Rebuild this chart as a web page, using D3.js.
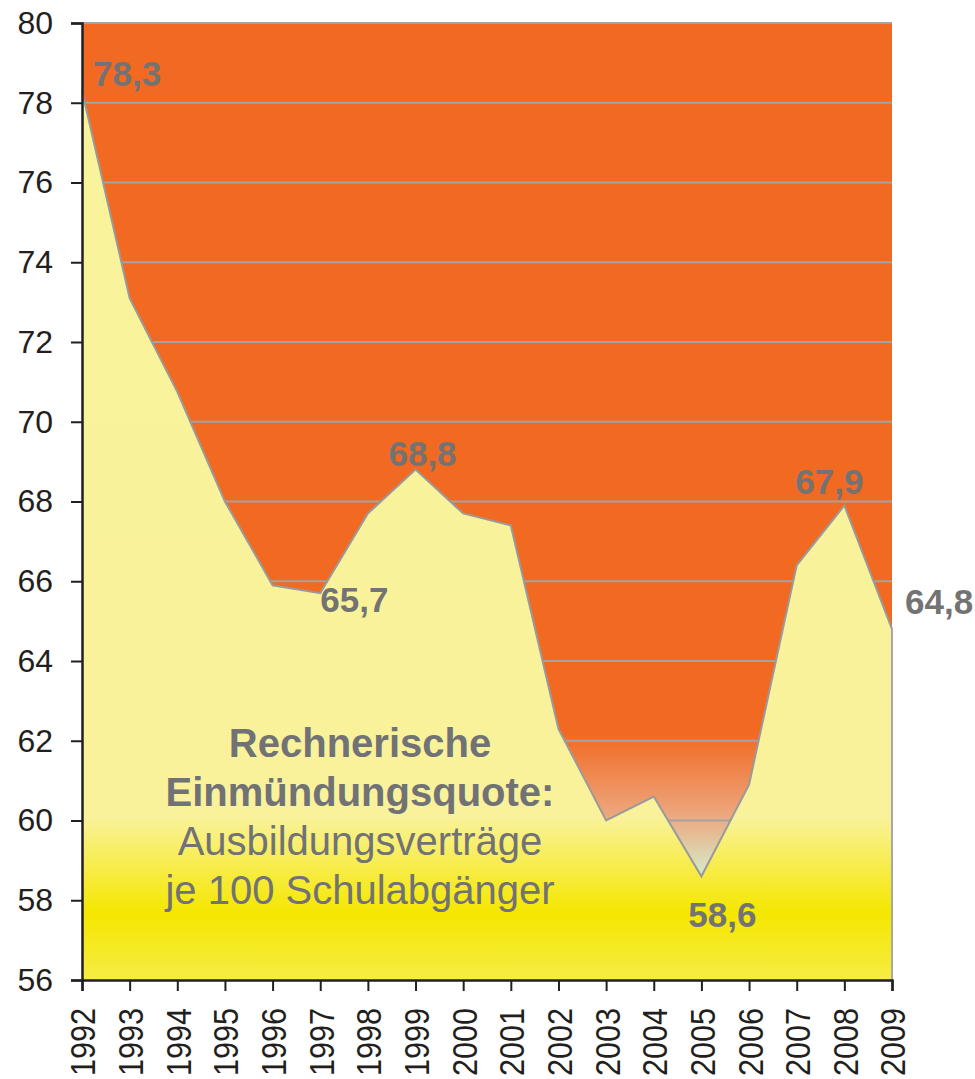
<!DOCTYPE html>
<html>
<head>
<meta charset="utf-8">
<script src="https://cdn.jsdelivr.net/npm/d3@7"></script>
<style>
body { margin: 0; background: #fff; }
svg { font-family: "Liberation Sans", Arial, sans-serif; }
</style>
</head>
<body>
<svg width="975" height="1079"></svg>
<script>
// data
const years = [1992, 1993, 1994, 1995, 1996, 1997, 1998, 1999, 2000, 2001, 2002, 2003, 2004, 2005, 2006, 2007, 2008, 2009];
const quote = [78.3, 73.1, 70.75, 68.0, 65.9, 65.7, 67.7, 68.8, 67.7, 67.4, 62.3, 60.0, 60.6, 58.6, 60.9, 66.4, 67.9, 64.8];
const yTicks = [56, 58, 60, 62, 64, 66, 68, 70, 72, 74, 76, 78, 80];
const labelYears = [1992, 1997, 1999, 2005, 2008, 2009];
const labelText = ["78,3", "65,7", "68,8", "58,6", "67,9", "64,8"];
const titleLines = ["Rechnerische", "Einmündungsquote:", "Ausbildungsverträge", "je 100 Schulabgänger"];

const svg = d3.select("svg");
const mLeft = 82, mRight = 892, mTop = 23, mBottom = 980;

const x = d3.scaleLinear().domain([1992, 2009]).range([mLeft, mRight]);
const y = d3.scaleLinear().domain([56, 80]).range([mBottom, mTop]);

const data = years.map((yr, i) => ({year: yr, v: quote[i]}));

const defs = svg.append("defs");
const og = defs.append("linearGradient").attr("id", "orangeGrad")
	.attr("gradientUnits", "userSpaceOnUse").attr("x1", 0).attr("x2", 0)
	.attr("y1", y(62.2)).attr("y2", y(58.6));
og.append("stop").attr("offset", 0).attr("stop-color", "#f26922");
og.append("stop").attr("offset", 0.55).attr("stop-color", "#eda47a");
og.append("stop").attr("offset", 1).attr("stop-color", "#d6eccb");

const yg = defs.append("linearGradient").attr("id", "yellowGrad")
	.attr("gradientUnits", "userSpaceOnUse").attr("x1", 0).attr("x2", 0)
	.attr("y1", mTop).attr("y2", mBottom);
yg.append("stop").attr("offset", 0).attr("stop-color", "#f9f39b");
yg.append("stop").attr("offset", 0.83).attr("stop-color", "#f9f29a");
yg.append("stop").attr("offset", 0.93).attr("stop-color", "#f5e700");
yg.append("stop").attr("offset", 1).attr("stop-color", "#f6ec45");

// orange background (area above the line)
svg.append("path")
	.datum(data)
	.attr("d", d3.area().x(d => x(d.year)).y0(mTop).y1(d => y(d.v)))
	.attr("fill", "url(#orangeGrad)");

// grid
svg.append("g")
	.selectAll("line")
	.data(yTicks.filter(t => t > 56))
	.join("line")
	.attr("x1", mLeft).attr("x2", mRight)
	.attr("y1", d => y(d)).attr("y2", d => y(d))
	.attr("stroke", "#a3a3a3").attr("stroke-width", 2);

// yellow area
svg.append("path")
	.datum(data)
	.attr("d", d3.area().x(d => x(d.year)).y0(mBottom).y1(d => y(d.v)))
	.attr("fill", "url(#yellowGrad)");

// line
svg.append("path")
	.datum(data)
	.attr("d", d3.line().x(d => x(d.year)).y(d => y(d.v)))
	.attr("fill", "none").attr("stroke", "#9a9a9a").attr("stroke-width", 2);

svg.append("line")
	.attr("x1", x(2009)).attr("x2", x(2009))
	.attr("y1", y(quote[quote.length - 1])).attr("y2", mBottom)
	.attr("stroke", "#a8a8a8").attr("stroke-width", 2);

// axes
const yAxis = svg.append("g")
	.attr("transform", `translate(${mLeft},0)`)
	.call(d3.axisLeft(y).tickValues(yTicks).tickSize(11).tickPadding(18));
yAxis.select(".domain").attr("stroke", "#231f20").attr("stroke-width", 2.5);
yAxis.selectAll(".tick line").attr("stroke", "#231f20").attr("stroke-width", 2);
yAxis.selectAll("text").attr("font-size", 32).attr("fill", "#231f20")
	.attr("x", -29)
	.attr("font-family", "Liberation Sans, Arial, sans-serif");

const xAxis = svg.append("g")
	.attr("transform", `translate(0,${mBottom})`)
	.call(d3.axisBottom(x).tickValues(years).tickFormat(d3.format("d")).tickSize(11));
xAxis.select(".domain").attr("stroke", "#231f20").attr("stroke-width", 2.5);
xAxis.selectAll(".tick line").attr("stroke", "#231f20").attr("stroke-width", 2);
xAxis.selectAll("text")
	.attr("font-size", 36).attr("fill", "#231f20")
	.attr("font-family", "Liberation Sans, Arial, sans-serif")
	.attr("transform", "rotate(-90) scale(0.85,1)")
	.attr("text-anchor", "end")
	.attr("x", -33).attr("y", 0).attr("dy", "0.36em");

// value labels: [dx, baseline dy, anchor]
const labelPos = {
	1992: [11, -5, "start"],
	1997: [0, 19, "start"],
	1999: [7, -4, "middle"],
	2005: [21, 51, "middle"],
	2008: [-15, -11, "middle"],
	2009: [13, -15, "start"]
};
svg.append("g")
	.selectAll("text")
	.data(labelYears)
	.join("text")
	.attr("x", (d) => x(d) + labelPos[d][0])
	.attr("y", (d) => y(quote[years.indexOf(d)]) + labelPos[d][1])
	.attr("text-anchor", d => labelPos[d][2])
	.attr("font-size", 35).attr("font-weight", "bold").attr("fill", "#737373")
	.text((d, i) => labelText[i]);

// annotation
svg.append("g")
	.selectAll("text")
	.data(titleLines)
	.join("text")
	.attr("x", 360)
	.attr("y", (d, i) => 757 + i * 49)
	.attr("text-anchor", "middle")
	.attr("font-size", 40)
	.attr("font-weight", (d, i) => i < 2 ? "bold" : "normal")
	.attr("fill", "#717276")
	.text(d => d);
</script>
</body>
</html>
